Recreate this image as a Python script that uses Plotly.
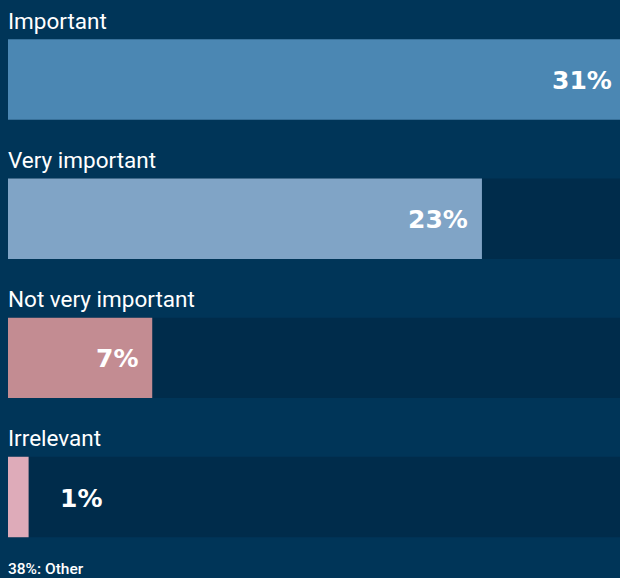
import plotly.graph_objects as go

categories = ["Important", "Very important", "Not very important", "Irrelevant"]
values = [31, 23, 7, 1]
value_labels = ["31%", "23%", "7%", "1%"]
bar_colors = ["#4b87b3", "#80a4c6", "#c38c92", "#deabb9"]
footer_text = "38%: Other"

BG = "#003558"
TRACK = "#002c4b"
XMAX = 29.7
BAR_W = 0.578

VAL_FONT = dict(family="DejaVu Sans", size=25, color="#ffffff", weight="bold")
CAT_FONT = dict(family="Roboto", size=22.5, color="#ffffff")

fig = go.Figure()
fig.add_trace(go.Bar(
    y=categories, x=[XMAX] * len(categories), orientation="h",
    marker=dict(color=TRACK, line=dict(width=0)), width=BAR_W,
    hoverinfo="skip", showlegend=False,
))
fig.add_trace(go.Bar(
    y=categories, x=values, orientation="h",
    marker=dict(color=bar_colors, line=dict(width=0)), width=BAR_W,
    showlegend=False,
))

for cat, v, lab in zip(categories, values, value_labels):
    fig.add_annotation(
        x=0, y=cat, xref="x", yref="y", text=cat, showarrow=False,
        xanchor="left", yanchor="bottom", yshift=44, xshift=-2,
        font=CAT_FONT,
    )
    if v >= 3:
        fig.add_annotation(
            x=min(v, XMAX), y=cat, xref="x", yref="y", text=lab, showarrow=False,
            xanchor="right", yanchor="middle", yshift=-1,
            xshift=-6 if v > XMAX else -12,
            font=VAL_FONT,
        )
    else:
        fig.add_annotation(
            x=v, y=cat, xref="x", yref="y", text=lab, showarrow=False,
            xanchor="left", yanchor="middle", xshift=29, yshift=-1,
            font=VAL_FONT,
        )

fig.add_annotation(
    x=0, y=0, xref="paper", yref="paper", text=footer_text, showarrow=False,
    xanchor="left", yanchor="bottom", yshift=-9, xshift=-2,
    font=dict(family="Roboto", size=15.5, color="#ffffff", weight=500),
)

fig.update_layout(
    width=620, height=578,
    margin=dict(l=8, r=0, t=10, b=7),
    paper_bgcolor=BG, plot_bgcolor=BG,
    barmode="overlay",
    xaxis=dict(range=[0, XMAX], visible=False, fixedrange=True),
    yaxis=dict(autorange="reversed", visible=False, fixedrange=True),
)

fig.write_html(
    "out.html",
    config={"displayModeBar": False},
    post_script="document.body.style.margin='0';document.body.style.overflow='hidden';",
)
